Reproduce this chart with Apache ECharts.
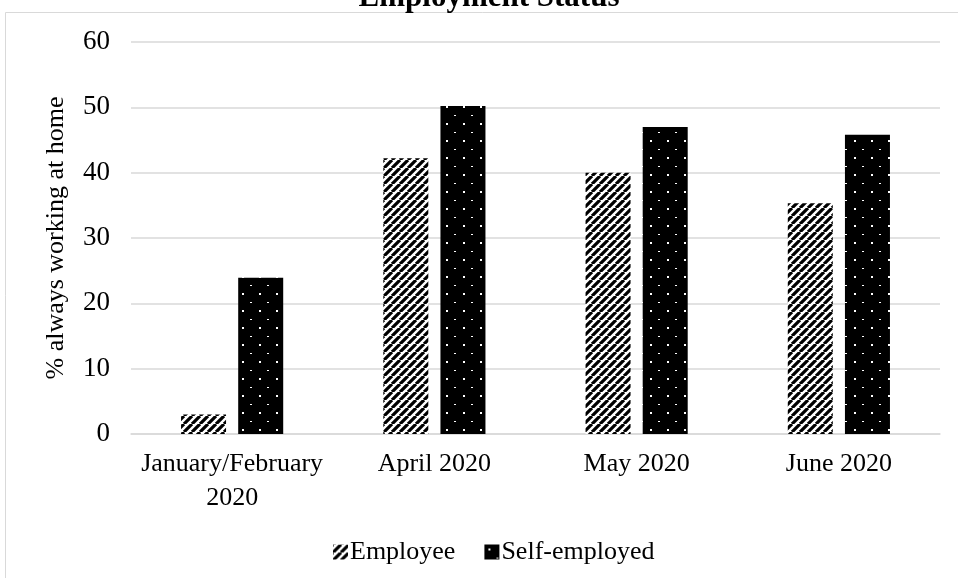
<!DOCTYPE html>
<html>
<head>
<meta charset="utf-8">
<script src="https://cdn.jsdelivr.net/npm/echarts@6/dist/echarts.min.js"></script>
<style>
  html, body { margin: 0; padding: 0; background: #ffffff; }
  #chart { width: 958px; height: 578px; }
</style>
</head>
<body>
<div id="chart"></div>
<script>
// Survey periods and the share of each group always working at home (%)
var categories = ['January/February\n2020', 'April 2020', 'May 2020', 'June 2020'];
var employeeValues = [3.0, 42.2, 40.0, 35.3];
var selfEmployedValues = [23.9, 50.2, 47.0, 45.8];
var seriesNames = ['Employee', 'Self-employed'];
var chartTitle = 'Employment Status';
var yAxisTitle = '% always working at home';

var FONT = '"Liberation Serif", "Times New Roman", serif';

// Wide upward diagonal hatch: black and white stripes
function makeStripePattern() {
  var s = 8;
  var c = document.createElement('canvas');
  c.width = s; c.height = s;
  var g = c.getContext('2d');
  g.fillStyle = '#ffffff';
  g.fillRect(0, 0, s, s);
  g.strokeStyle = '#000000';
  g.lineWidth = 3.2;
  g.beginPath();
  for (var k = -1; k <= 1; k++) {
    g.moveTo(k * s, s);
    g.lineTo(k * s + s, 0);
  }
  g.stroke();
  return c;
}

// Black fill with a staggered grid of small white dots
function makeDotPattern() {
  var s = 17;
  var c = document.createElement('canvas');
  c.width = s; c.height = s;
  var g = c.getContext('2d');
  g.fillStyle = '#000000';
  g.fillRect(0, 0, s, s);
  g.fillStyle = '#ffffff';
  g.fillRect(4, 4, 2, 2);
  g.fillRect(12, 13, 2, 1);
  return c;
}

var stripe = { image: makeStripePattern(), repeat: 'repeat' };
var dots = { image: makeDotPattern(), repeat: 'repeat' };

var chart = echarts.init(document.getElementById('chart'), null, { renderer: 'canvas' });

chart.setOption({
  backgroundColor: '#ffffff',
  animation: false,
  textStyle: { fontFamily: FONT, color: '#000000' },
  graphic: [
    {
      type: 'rect',
      z: -10,
      shape: { x: 5.5, y: 12.5, width: 1000, height: 1000 },
      style: { fill: 'none', stroke: '#d9d9d9', lineWidth: 1 }
    },
    {
      type: 'text',
      x: 489,
      y: -2,
      style: {
        text: chartTitle,
        font: 'bold 31px ' + FONT,
        fill: '#000000',
        textAlign: 'center',
        textVerticalAlign: 'middle'
      }
    }
  ],
  grid: { left: 131, right: 18, top: 42, bottom: 144, containLabel: false },
  legend: {
    data: seriesNames,
    left: 328,
    top: 534,
    icon: 'rect',
    itemWidth: 15,
    itemHeight: 15,
    itemGap: 29,
    textStyle: { fontFamily: FONT, fontSize: 26, color: '#000000', padding: [0, 0, 0, -3] }
  },
  xAxis: {
    type: 'category',
    data: categories,
    axisLine: { lineStyle: { color: '#d9d9d9', width: 1.5 } },
    axisTick: { show: false },
    axisLabel: {
      fontFamily: FONT,
      fontSize: 26,
      color: '#000000',
      lineHeight: 34,
      margin: 13,
      interval: 0
    }
  },
  yAxis: {
    type: 'value',
    min: 0,
    max: 60,
    interval: 10,
    name: yAxisTitle,
    nameLocation: 'middle',
    nameGap: 62,
    nameTextStyle: { fontFamily: FONT, fontSize: 26, color: '#000000' },
    axisLine: { show: false },
    axisTick: { show: false },
    axisLabel: { fontFamily: FONT, fontSize: 27, color: '#000000', margin: 21 },
    splitLine: { lineStyle: { color: '#d9d9d9', width: 1.5 } }
  },
  series: [
    {
      name: seriesNames[0],
      type: 'bar',
      data: employeeValues,
      barWidth: 45,
      barGap: '27%',
      itemStyle: { color: stripe }
    },
    {
      name: seriesNames[1],
      type: 'bar',
      data: selfEmployedValues,
      barWidth: 45,
      barGap: '27%',
      itemStyle: { color: dots }
    }
  ]
});
</script>
</body>
</html>
